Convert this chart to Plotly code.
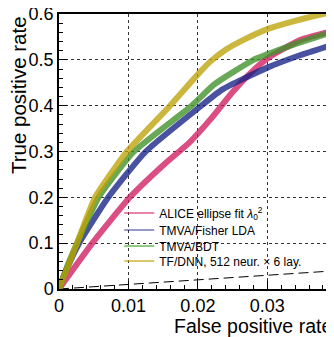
import plotly.graph_objects as go

# ---- data ----
alice_x = [0, 0.0048, 0.0102, 0.0150, 0.0188, 0.0218, 0.0250, 0.0275, 0.0300, 0.0347, 0.0396]
alice_y = [0, 0.10, 0.20, 0.27, 0.32, 0.37, 0.43, 0.47, 0.503, 0.543, 0.564]

fisher_x = [0, 0.0010, 0.0029, 0.0071, 0.0125, 0.0205, 0.0236, 0.0300, 0.0347, 0.0396]
fisher_y = [0, 0.04, 0.10, 0.20, 0.30, 0.40, 0.436, 0.483, 0.51, 0.534]

bdt_x = [0, 0.0012, 0.0026, 0.0057, 0.0108, 0.0191, 0.0224, 0.0280, 0.0300, 0.0347, 0.0396]
bdt_y = [0, 0.05, 0.10, 0.20, 0.30, 0.40, 0.447, 0.50, 0.512, 0.538, 0.562]

dnn_x = [0, 0.0013, 0.0026, 0.0052, 0.0098, 0.0160, 0.0198, 0.0217, 0.0240, 0.0265, 0.0300, 0.0340, 0.0380, 0.0396]
dnn_y = [0, 0.05, 0.10, 0.20, 0.30, 0.40, 0.465, 0.495, 0.522, 0.543, 0.567, 0.585, 0.60, 0.604]

diag_x = [0, 0.04]
diag_y = [0, 0.04]

names = ["ALICE ellipse fit <i>λ</i><sub>0</sub><sup>2</sup>",
         "TMVA/Fisher LDA",
         "TMVA/BDT",
         "TF/DNN, 512 neur. × 6 lay."]
band_colors = ["rgba(208,28,98,0.78)", "rgba(22,32,135,0.78)",
               "rgba(62,145,40,0.78)", "rgba(188,162,8,0.78)"]
legend_colors = ["rgba(214,30,100,0.55)", "rgba(22,32,135,0.45)",
                 "rgba(65,170,40,0.6)", "rgba(192,165,10,0.6)"]
legend_rows_y = [0.2764, 0.2145, 0.1564, 0.1018]

series = [(alice_x, alice_y), (fisher_x, fisher_y), (bdt_x, bdt_y), (dnn_x, dnn_y)]

fig = go.Figure()

fig.add_trace(go.Scatter(x=diag_x, y=diag_y, mode="lines", showlegend=False,
                         line=dict(color="black", width=1, dash="10px,5px")))

for (xs, ys), c in zip(series, band_colors):
    fig.add_trace(go.Scatter(x=xs, y=ys, mode="lines", showlegend=False,
                             line=dict(color=c, width=6, shape="spline", smoothing=0.5)))

font = "Liberation Sans, Arial, Helvetica, sans-serif"
legend_ids = ["legend", "legend2", "legend3", "legend4"]
legend_layout = {}
for i, (n, c) in enumerate(zip(names, legend_colors)):
    fig.add_trace(go.Scatter(x=[None], y=[None], mode="lines", name=n,
                             legend=legend_ids[i], line=dict(color=c, width=2)))
    legend_layout[legend_ids[i]] = dict(
        x=0.219, y=legend_rows_y[i], xanchor="left", yanchor="middle",
        bgcolor="rgba(0,0,0,0)", font=dict(size=12, family=font),
        itemwidth=30)

fig.update_layout(
    width=326, height=329,
    margin=dict(l=51, r=0, t=6, b=48, autoexpand=False),
    paper_bgcolor="white", plot_bgcolor="white",
    font=dict(family=font, size=18, color="black"),
    showlegend=True,
    xaxis=dict(range=[0, 0.0396], dtick=0.01, tick0=0, automargin=False,
               ticklabeloverflow="allow",
               showline=True, linecolor="black", linewidth=1.5, mirror=True,
               ticks="inside", ticklen=8, tickwidth=1, tickcolor="black",
               minor=dict(dtick=0.002, ticks="inside", ticklen=4, tickcolor="black", showgrid=False),
               showgrid=True, gridcolor="#333", gridwidth=1, griddash="dot",
               zeroline=False, tickfont=dict(size=18)),
    yaxis=dict(range=[0, 0.6], dtick=0.1, tick0=0, automargin=False,
               ticklabeloverflow="allow",
               showline=True, linecolor="black", linewidth=1.5, mirror=False,
               ticks="inside", ticklen=8, tickwidth=1, tickcolor="black",
               minor=dict(dtick=0.02, ticks="inside", ticklen=4, tickcolor="black", showgrid=False),
               showgrid=True, gridcolor="#333", gridwidth=1, griddash="dot",
               zeroline=False, tickfont=dict(size=18)),
    annotations=[
        dict(text="True positive rate", textangle=-90, xref="paper", yref="paper",
             x=-0.149, y=1.0, xanchor="center", yanchor="top", showarrow=False,
             font=dict(size=20.5, family=font)),
        dict(text="False positive rate", xref="paper", yref="paper",
             x=1.0, y=-0.136, xanchor="right", yanchor="middle", showarrow=False,
             font=dict(size=19.5, family=font)),
    ],
    **legend_layout,
)

fig.write_html("out.html")
